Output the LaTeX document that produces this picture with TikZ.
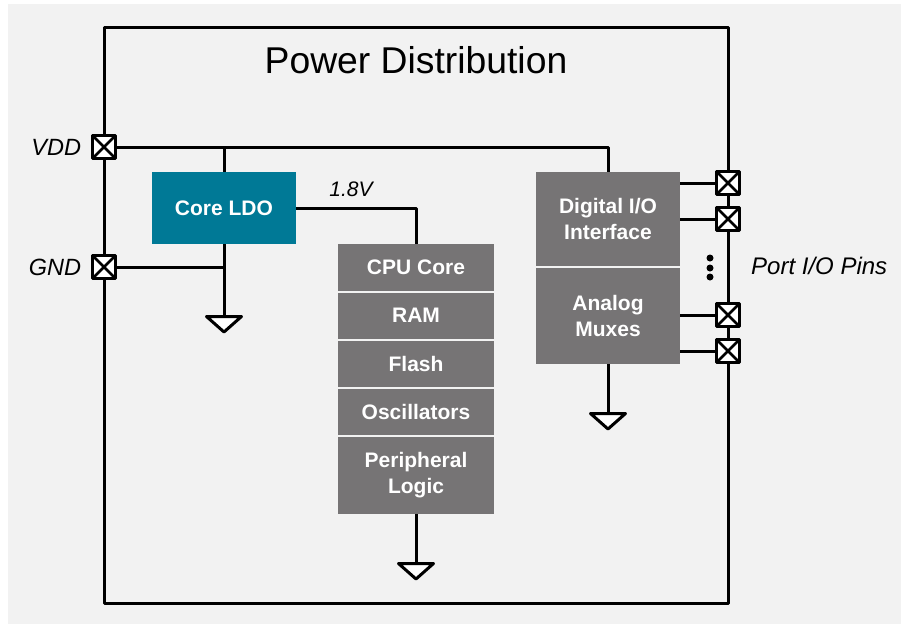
\documentclass[tikz,border=0pt]{standalone}
\usepackage{fontspec}
\setmainfont{Liberation Sans}
\usetikzlibrary{shapes.geometric}
\definecolor{panelgray}{HTML}{F2F2F2}
\definecolor{teal}{HTML}{007996}
\definecolor{blockgray}{HTML}{767475}
\tikzset{
  wire/.style={line width=3pt,black,line join=round},
  blockbox/.style={fill=blockgray,text=white,font=\fontsize{21}{26}\selectfont\bfseries,align=center,minimum width=#1,inner sep=0pt,outer sep=0pt},
  ldobox/.style={fill=teal,text=white,font=\fontsize{21}{26}\selectfont\bfseries,minimum width=144pt,minimum height=72pt,inner sep=0pt,outer sep=0pt},
  padbox/.style={draw=black,fill=white,line width=3.5pt,line join=round,minimum size=23pt,inner sep=0pt,outer sep=0pt,
    path picture={\draw[line width=2.8pt] (path picture bounding box.south west)--(path picture bounding box.north east)
      (path picture bounding box.north west)--(path picture bounding box.south east);}},
  gndsym/.style={isosceles triangle,isosceles triangle stretches,shape border rotate=270,draw=black,fill=white,line width=3pt,line join=round,
    minimum width=35pt,minimum height=15.5pt,inner sep=0pt,outer sep=0pt,anchor=lower side},
  sidelabel/.style={font=\fontsize{23.5}{26}\selectfont\itshape,inner sep=0pt,outer sep=0pt},
  dotmark/.style={circle,fill=black,minimum size=7pt,inner sep=0pt,outer sep=0pt},
}
\begin{document}
\begin{tikzpicture}[x=1pt,y=-1pt]
\useasboundingbox (0,0) rectangle (901,624);
\node[fill=panelgray,minimum width=893pt,minimum height=620pt,inner sep=0pt,outer sep=0pt] (panel) at (454.5,314) {};
\node[draw=black,line width=3pt,line join=round,minimum width=624pt,minimum height=576pt,inner sep=0pt,outer sep=0pt] (frame) at (416,315) {};
\node[font=\fontsize{37.3}{40}\selectfont,inner sep=0pt] (title) at (416,60) {Power Distribution};

% blocks
\node[ldobox] (ldo) at (224,208) {Core LDO};
\node[blockbox=156pt,minimum height=46.7pt] (cpu) at (416,267.35) {CPU Core};
\node[blockbox=156pt,minimum height=46.2pt] (ram) at (416,315.6) {RAM};
\node[blockbox=156pt,minimum height=46.2pt] (flash) at (416,363.6) {Flash};
\node[blockbox=156pt,minimum height=46.2pt] (osc) at (416,411.6) {Oscillators};
\node[blockbox=156pt,minimum height=77.5pt] (periph) at (416,475.25) {Peripheral\\Logic};
\node[blockbox=144pt,minimum height=93.8pt] (dio) at (608,218.9) {Digital I/O\\Interface};
\node[blockbox=144pt,minimum height=96pt] (mux) at (608,316) {Analog\\Muxes};

% pads
\node[padbox] (vdd) at (104,147) {};
\node[padbox] (gnd) at (104,267) {};
\node[padbox] (pa) at (728,183) {};
\node[padbox] (pb) at (728,219) {};
\node[padbox] (pc) at (728,315) {};
\node[padbox] (pd) at (728,351) {};

% ground symbols
\node[gndsym] (g1) at (224,316.5) {};
\node[gndsym] (g2) at (608,413.5) {};
\node[gndsym] (g3) at (416,563.5) {};

% connectors
\draw[wire] (vdd.east) -| (dio.north);
\draw[wire] (ldo.north |- vdd.east) -- (ldo.north);
\draw[wire] (ldo.east) -| (cpu.north);
\draw[wire] (gnd.east) -- (ldo.south |- gnd.east);
\draw[wire] (ldo.south) -- (g1.lower side);
\draw[wire] (mux.south) -- (g2.lower side);
\draw[wire] (periph.south) -- (g3.lower side);
\draw[wire] (dio.east |- pa.west) -- (pa.west);
\draw[wire] (dio.east |- pb.west) -- (pb.west);
\draw[wire] (mux.east |- pc.west) -- (pc.west);
\draw[wire] (mux.east |- pd.west) -- (pd.west);

% labels
\node[sidelabel,anchor=east] (vddl) at (81,147) {VDD};
\node[sidelabel,anchor=east] (gndl) at (81,267) {GND};
\node[font=\fontsize{24}{26}\selectfont\itshape,inner sep=0pt,anchor=west] (portl) at (751,266) {Port I/O Pins};
\node[font=\fontsize{21}{24}\selectfont\itshape,inner sep=0pt] (volt) at (351,189) {1.8V};
\node[dotmark] (d1) at (710,258) {};
\node[dotmark] (d2) at (710,268) {};
\node[dotmark] (d3) at (710,277) {};
\end{tikzpicture}
\end{document}
